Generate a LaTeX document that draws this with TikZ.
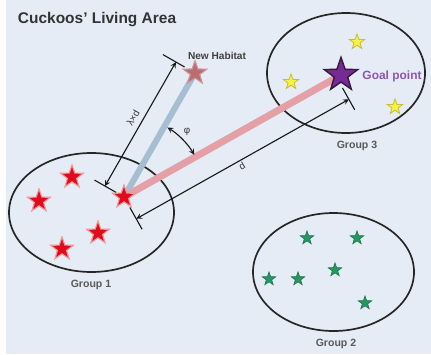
\documentclass[tikz,border=0pt]{standalone}
\usepackage{fontspec}
\setmainfont{Liberation Sans}
\usetikzlibrary{shapes.geometric,arrows}

\definecolor{bgcol}{RGB}{230,236,246}
\definecolor{starred}{RGB}{222,12,28}
\definecolor{starpink}{RGB}{242,150,150}
\definecolor{habfill}{RGB}{186,108,112}
\definecolor{habedge}{RGB}{205,150,150}
\definecolor{goalfill}{RGB}{118,42,150}
\definecolor{goaledge}{RGB}{55,25,60}
\definecolor{goaltext}{RGB}{140,85,175}
\definecolor{yelfill}{RGB}{246,242,70}
\definecolor{yeledge}{RGB}{200,190,50}
\definecolor{grnfill}{RGB}{38,150,98}
\definecolor{grnedge}{RGB}{30,118,78}
\definecolor{bluebar}{RGB}{166,189,210}
\definecolor{pinkbar}{RGB}{228,160,166}

\begin{document}
\begin{tikzpicture}[x=0.025cm, y=-0.025cm,
  grp/.style={line width=1.2pt, draw=black!85},
  lbl/.style={font=\fontsize{7.5}{8}\selectfont\bfseries, text=black!65},
  dim/.style={line width=0.8pt, draw=black!90},
  dimlbl/.style={font=\fontsize{7}{8}\selectfont, text=black!80},
  mstar/.style={star, star points=5, star point ratio=2.5, inner sep=0pt},
  redstar/.style={mstar, minimum size=0.6cm, fill=starred, draw=starpink, line width=0.8pt},
  habstar/.style={mstar, minimum size=0.62cm, fill=habfill, draw=habedge, line width=0.8pt},
  goalstar/.style={mstar, minimum size=0.88cm, fill=goalfill, draw=goaledge, line width=1pt},
  yelstar/.style={mstar, minimum size=0.4cm, fill=yelfill, draw=yeledge, line width=0.6pt},
  grnstar/.style={mstar, minimum size=0.36cm, fill=grnfill, draw=grnedge, line width=0.4pt}]

  \fill[white] (0,0) rectangle (431,354);
  \fill[bgcol] (6,0) rectangle (431,354);

  \node[anchor=base west, font=\fontsize{11}{13}\selectfont\bfseries, text=black!80] (title) at (13,24) {Cuckoos' Living Area};

  % groups
  \coordinate (g1) at (91.5,212.5);
  \coordinate (g2) at (333.5,272);
  \coordinate (g3) at (346,73);
  \draw[grp] (g1) ellipse[x radius=82.5, y radius=59.5];
  \draw[grp] (g2) ellipse[x radius=80.5, y radius=59];
  \draw[grp] (g3) ellipse[x radius=79, y radius=60];
  \node[lbl] (g1lbl) at (91,285) {Group 1};
  \node[lbl] (g2lbl) at (336,344) {Group 2};
  \node[lbl] (g3lbl) at (357,146) {Group 3};

  % moves
  \coordinate (cur) at (124,197);
  \coordinate (new) at (195,73);
  \coordinate (goal) at (341,75);
  \draw[line width=4.3pt, bluebar] (cur) -- (new);
  \draw[line width=5pt, pinkbar] (cur) -- (goal);

  % lambda x d
  \coordinate (la) at (116.2,192.5);
  \coordinate (lb) at (94.5,180.1);
  \coordinate (lc) at (184.6,67.0);
  \coordinate (ld) at (162.9,54.6);
  \coordinate (lp) at (104.9,186.1);
  \coordinate (lq) at (175.9,62.1);
  \draw[dim] (la) -- (lb);
  \draw[dim] (lc) -- (ld);
  \draw[dim, stealth-stealth] (lp) -- (lq);
  \node[dimlbl, rotate=60] (ldlbl) at (133,118) {λ×d};

  % d
  \coordinate (da) at (129.9,207.5);
  \coordinate (db) at (142.1,229.3);
  \coordinate (dc) at (342.5,88);
  \coordinate (dd) at (354.7,109.8);
  \coordinate (dp) at (136.3,218.8);
  \coordinate (dq) at (348.9,99.3);
  \draw[dim] (da) -- (db);
  \draw[dim] (dc) -- (dd);
  \draw[dim, stealth-stealth] (dp) -- (dq);
  \node[dimlbl, rotate=30] (dlbl) at (242,166) {d};

  % angle
  \draw[dim, stealth-stealth] ([shift={(-58:82)}]cur) arc[start angle=-58, end angle=-31, radius=82];
  \node[dimlbl] (phi) at (187,132) {φ};

  % stars
  \node[redstar] (s1) at (72,177) {};
  \node[redstar] (s2) at (39,201) {};
  \node[redstar] (s3) at (98,233) {};
  \node[redstar] (s4) at (62,249) {};
  \node[redstar] (s0) at (cur) {};
  \node[habstar] (hab) at (new) {};
  \node[goalstar] (gs) at (goal) {};
  \node[yelstar] (y1) at (357,42) {};
  \node[yelstar] (y2) at (291,82) {};
  \node[yelstar] (y3) at (395,107) {};
  \node[grnstar] (e1) at (307,238) {};
  \node[grnstar] (e2) at (357,238) {};
  \node[grnstar] (e3) at (335,270) {};
  \node[grnstar] (e4) at (269,279) {};
  \node[grnstar] (e5) at (298,279) {};
  \node[grnstar] (e6) at (365,303) {};

  \node[font=\fontsize{7.2}{8}\selectfont\bfseries, text=black!75] (hablbl) at (217,56) {New Habitat};
  \node[font=\fontsize{8.5}{9}\selectfont\bfseries, text=goaltext] (goallbl) at (392,76) {Goal point};
\end{tikzpicture}
\end{document}
